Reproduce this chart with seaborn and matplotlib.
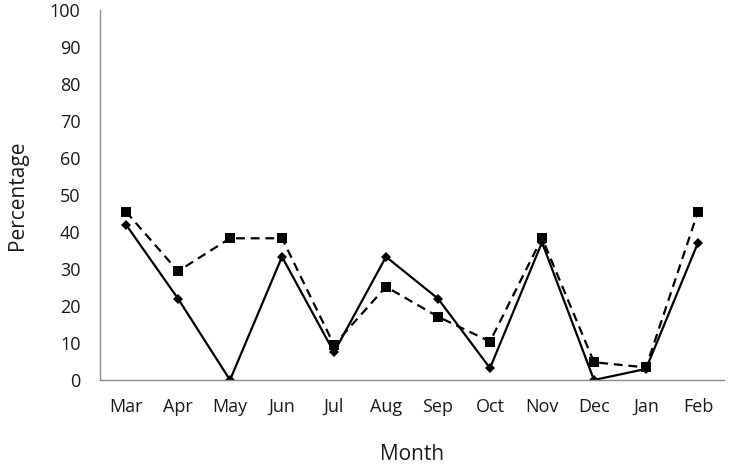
import numpy as np
import pandas as pd
import matplotlib
matplotlib.use("Agg")
import matplotlib.pyplot as plt
import seaborn as sns

months = ["Mar", "Apr", "May", "Jun", "Jul", "Aug", "Sep", "Oct", "Nov", "Dec", "Jan", "Feb"]
solid_vals = [42.0, 22.0, 0.0, 33.3, 7.5, 33.3, 22.0, 3.2, 37.2, 0.0, 3.0, 37.1]
dashed_vals = [45.5, 29.4, 38.3, 38.3, 9.5, 25.2, 17.1, 10.4, 38.4, 4.8, 3.4, 45.5]
y_ticks = list(range(0, 101, 10))

sns.set_style("white")
plt.rcParams["font.family"] = ["Open Sans", "DejaVu Sans"]

df = pd.DataFrame({
    "pos": np.arange(len(months)),
    "month": months,
    "solid": solid_vals,
    "dashed": dashed_vals,
})

fig = plt.figure(figsize=(7.29, 4.66), dpi=100)
ax = fig.add_axes([100 / 729, 1 - 380 / 466, 624 / 729, 370 / 466])

axis_grey = "#8c8c8c"
text_col = "#1a1a1a"

sns.lineplot(data=df, x="pos", y="dashed", ax=ax, color="black", linewidth=1.6,
             linestyle=(0, (4, 2.6)), marker="s", markersize=7.5,
             markeredgewidth=0, sort=False)
sns.lineplot(data=df, x="pos", y="solid", ax=ax, color="black", linewidth=1.6,
             marker="D", markersize=5.2, markeredgewidth=0, sort=False)

ax.set_xlim(-0.5, len(months) - 0.5)
ax.set_ylim(0, 100)
ax.set_yticks(y_ticks)
ax.set_yticklabels([str(t) for t in y_ticks], fontsize=13, color=text_col)
ax.set_xticks(df["pos"])
ax.set_xticklabels(months, fontsize=13, color=text_col)
ax.set_xticks(np.arange(-0.5, len(months)), minor=True)
ax.tick_params(axis="x", which="major", length=0, pad=13)
ax.tick_params(axis="x", which="minor", length=5, color=axis_grey, width=1)
ax.tick_params(axis="y", length=5, color=axis_grey, width=1, pad=9)

for side in ["top", "right"]:
    ax.spines[side].set_visible(False)
for side in ["left", "bottom"]:
    ax.spines[side].set_color(axis_grey)
    ax.spines[side].set_linewidth(1)

ax.set_xlabel("Month", fontsize=15, labelpad=20, color=text_col)
ax.set_ylabel("Percentage", fontsize=15, labelpad=16, color=text_col)

fig.savefig("out.png", dpi=100)
